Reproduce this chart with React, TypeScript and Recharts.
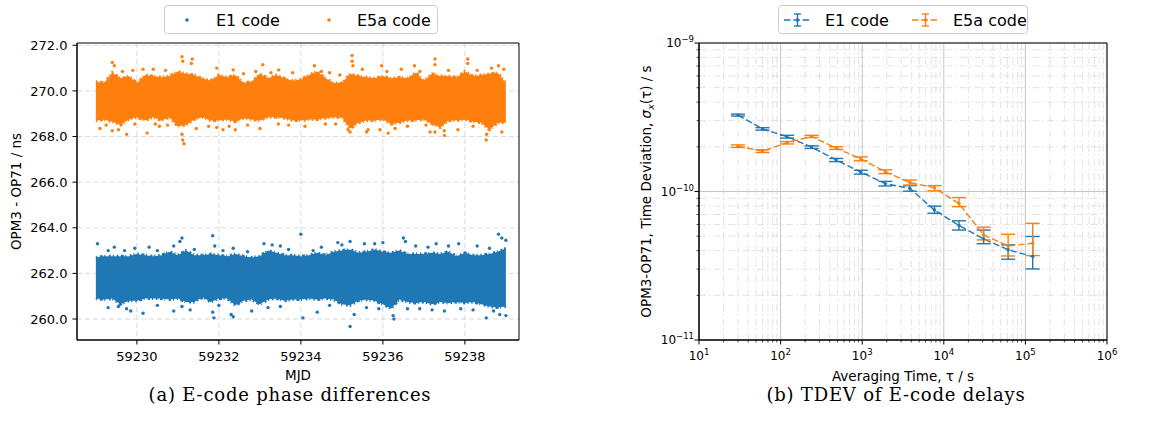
import { ComposedChart, LineChart, Line, Area, Scatter, XAxis, YAxis, CartesianGrid, ErrorBar, ReferenceArea, Label } from 'recharts'

const BLUE = '#1f77b4'
const ORANGE = '#ff7f0e'

const mjd = [59229.0, 59229.2, 59229.4, 59229.6, 59229.8, 59230.0, 59230.2, 59230.4, 59230.6, 59230.8, 59231.0, 59231.2, 59231.4, 59231.6, 59231.8, 59232.0, 59232.2, 59232.4, 59232.6, 59232.8, 59233.0, 59233.2, 59233.4, 59233.6, 59233.8, 59234.0, 59234.2, 59234.4, 59234.6, 59234.8, 59235.0, 59235.2, 59235.4, 59235.6, 59235.8, 59236.0, 59236.2, 59236.4, 59236.6, 59236.8, 59237.0, 59237.2, 59237.4, 59237.6, 59237.8, 59238.0, 59238.2, 59238.4, 59238.6, 59238.8, 59239.0]
const e5aHigh = [270.4, 270.35, 270.8, 270.55, 270.65, 270.35, 270.7, 270.65, 270.6, 270.65, 270.85, 270.75, 270.7, 270.55, 270.45, 270.7, 270.6, 270.7, 270.35, 270.4, 270.75, 270.55, 270.7, 270.55, 270.45, 270.5, 270.7, 270.85, 270.55, 270.35, 270.35, 270.75, 270.65, 270.6, 270.55, 270.65, 270.55, 270.6, 270.55, 270.8, 270.45, 270.75, 270.65, 270.65, 270.6, 270.85, 270.65, 270.7, 270.75, 270.8, 270.35]
const e5aLow = [268.7, 268.75, 268.65, 268.5, 268.75, 268.85, 268.7, 268.85, 268.7, 268.85, 268.45, 268.5, 268.75, 268.85, 268.7, 268.7, 268.75, 268.65, 268.8, 268.75, 268.7, 268.85, 268.85, 268.8, 268.7, 268.7, 268.75, 268.75, 268.8, 268.85, 268.85, 268.35, 268.6, 268.7, 268.7, 268.75, 268.55, 268.6, 268.7, 268.7, 268.75, 268.55, 268.4, 268.7, 268.7, 268.75, 268.65, 268.6, 268.3, 268.6, 268.6]
const e1High = [262.7, 262.75, 262.75, 262.75, 262.75, 262.85, 262.8, 262.75, 262.8, 262.95, 262.8, 263.0, 262.8, 262.8, 262.85, 262.8, 262.75, 262.85, 262.75, 262.7, 262.75, 263.0, 262.9, 262.8, 262.8, 262.75, 262.8, 262.9, 262.8, 262.95, 263.0, 263.05, 262.9, 262.95, 263.05, 262.95, 262.9, 263.0, 262.85, 262.85, 262.85, 262.9, 262.85, 262.95, 262.75, 262.9, 262.8, 262.8, 262.85, 262.95, 263.1]
const e1Low = [260.9, 260.85, 260.9, 260.65, 260.8, 260.8, 260.9, 260.9, 260.9, 260.85, 260.9, 260.75, 260.75, 260.95, 260.75, 260.9, 260.9, 260.6, 260.8, 260.85, 260.65, 260.85, 260.9, 260.8, 260.85, 260.85, 260.9, 260.85, 260.9, 260.85, 260.65, 260.6, 260.8, 260.85, 260.8, 260.65, 260.45, 260.85, 260.75, 260.7, 260.75, 260.65, 260.75, 260.7, 260.75, 260.7, 260.75, 260.65, 260.55, 260.5, 260.55]

// isolated points outside the band: [MJD, ns]
const e5aStray = [[59229.1, 268.35], [59229.4, 268.25], [59229.55, 268.3], [59229.75, 268.1], [59230.25, 268.15], [59230.55, 268.45], [59230.75, 268.5], [59231.1, 268.1], [59231.12, 267.85], [59231.15, 267.68], [59231.45, 268.35], [59231.75, 268.45], [59231.95, 268.4], [59229.4, 271.25], [59229.45, 271.1], [59230.4, 270.95], [59231.1, 271.5], [59231.12, 271.3], [59231.35, 271.4], [59231.33, 271.2], [59231.95, 271.0], [59232.35, 270.92], [59233.07, 271.15], [59233.27, 270.8], [59233.46, 270.92], [59234.33, 271.1], [59234.5, 270.85], [59235.25, 271.55], [59235.25, 271.3], [59235.27, 271.1], [59232.1, 268.3], [59232.25, 268.45], [59232.4, 268.3], [59233.0, 268.35], [59233.45, 268.55], [59234.1, 268.45], [59235.15, 268.3], [59235.2, 268.2], [59235.6, 268.2], [59235.97, 271.1], [59236.77, 271.1], [59237.27, 271.4], [59237.27, 271.15], [59238.07, 271.4], [59238.07, 271.2], [59238.65, 271.0], [59238.82, 271.1], [59235.64, 268.3], [59235.93, 268.3], [59236.13, 268.15], [59236.3, 268.35], [59237.15, 268.2], [59237.27, 268.2], [59237.5, 268.05], [59237.5, 268.25], [59237.83, 268.3], [59238.52, 267.85], [59238.53, 268.1], [59238.9, 268.2],
  [59229.65, 270.85], [59229.9, 270.9], [59230.15, 270.95], [59230.7, 270.9], [59232.6, 270.75], [59232.9, 270.85], [59233.8, 270.8], [59234.7, 270.8], [59234.95, 270.7], [59235.5, 270.95], [59236.1, 270.85], [59236.45, 270.95], [59236.9, 270.85], [59237.6, 270.9], [59238.3, 270.9], [59238.95, 270.95],
  [59229.25, 268.5], [59229.95, 268.55], [59230.45, 268.55], [59232.7, 268.5], [59233.7, 268.5], [59234.6, 268.55], [59234.85, 268.55], [59236.6, 268.45], [59237.05, 268.5], [59238.2, 268.45]]
const e1Stray = [[59229.04, 263.3], [59229.45, 263.15], [59229.95, 263.1], [59230.3, 263.15], [59230.9, 263.2], [59231.1, 263.55], [59231.05, 263.4], [59231.85, 263.65], [59231.9, 263.2], [59232.35, 263.1], [59233.1, 263.3], [59233.3, 263.25], [59233.5, 263.2], [59234.0, 263.72], [59234.5, 263.15], [59234.9, 263.35], [59235.2, 263.4], [59235.55, 263.3], [59236.0, 263.35], [59236.5, 263.55], [59236.55, 263.4], [59237.3, 263.3], [59237.85, 263.3], [59238.3, 263.2], [59238.82, 263.72], [59238.9, 263.55], [59239.0, 263.45], [59229.3, 260.5], [59229.75, 260.45], [59229.85, 260.35], [59230.15, 260.25], [59230.9, 260.35], [59231.1, 260.55], [59231.3, 260.4], [59231.85, 260.3], [59231.88, 260.05], [59232.3, 260.2], [59232.35, 260.1], [59232.8, 260.35], [59233.2, 260.5], [59234.05, 260.05], [59234.4, 260.3], [59235.2, 259.67], [59235.3, 260.2], [59235.9, 260.45], [59236.27, 260.0], [59236.25, 260.15], [59236.9, 260.45], [59237.5, 260.35], [59238.2, 260.4], [59238.52, 260.05], [59238.85, 260.2], [59239.0, 260.15],
  [59229.3, 263.0], [59229.7, 263.0], [59230.5, 263.0], [59231.4, 263.05], [59232.1, 263.0], [59232.7, 262.95], [59233.7, 263.05], [59234.3, 263.0], [59235.0, 263.25], [59235.8, 263.3], [59236.8, 263.2], [59237.1, 263.15], [59237.6, 263.2], [59238.6, 263.1],
  [59229.55, 260.55], [59230.5, 260.6], [59232.0, 260.6], [59233.5, 260.55], [59234.7, 260.6], [59235.6, 260.5], [59236.6, 260.45], [59237.2, 260.4], [59237.9, 260.45], [59238.7, 260.35]]

const mjdTicks = [59230, 59232, 59234, 59236, 59238]
const nsTicks = [260, 262, 264, 266, 268, 270, 272]
const mjdDomain = [59228.54, 59239.32]
const nsDomain = [259.08, 272.1]

// (b) TDEV, error bars as [below, above]
const tau = [30, 60, 120, 240, 480, 960, 1920, 3840, 7680, 15360, 30720, 61440, 122880]
const tdevE1 = [3.27e-10, 2.64e-10, 2.34e-10, 1.99e-10, 1.63e-10, 1.35e-10, 1.13e-10, 1.05e-10, 7.5e-11, 5.9e-11, 4.8e-11, 4.05e-11, 3.65e-11]
const errE1Below = [5e-12, 5e-12, 5e-12, 4e-12, 4e-12, 4e-12, 4e-12, 4.5e-12, 3.7e-12, 4e-12, 3.5e-12, 5.5e-12, 6.4e-12]
const errE1Above = [5e-12, 5e-12, 5e-12, 4e-12, 4e-12, 4e-12, 4e-12, 4.5e-12, 4.7e-12, 4.5e-12, 7e-12, 3.2e-12, 1.33e-11]
const tdevE5a = [2.02e-10, 1.87e-10, 2.13e-10, 2.35e-10, 1.96e-10, 1.66e-10, 1.36e-10, 1.15e-10, 1.06e-10, 8.3e-11, 5.1e-11, 4.3e-11, 4.48e-11]
const errE5aBelow = [4e-12, 4e-12, 4e-12, 4e-12, 4e-12, 5e-12, 4e-12, 4.5e-12, 5e-12, 4e-12, 3.8e-12, 6.2e-12, 7.8e-12]
const errE5aAbove = [4e-12, 4e-12, 4e-12, 4e-12, 4e-12, 5e-12, 4e-12, 4.5e-12, 3.5e-12, 8e-12, 6.5e-12, 8.5e-12, 1.62e-11]

const tauMajor = [1e1, 1e2, 1e3, 1e4, 1e5, 1e6]
const devMajor = [1e-11, 1e-10, 1e-9]
const steps = [2, 3, 4, 5, 6, 7, 8, 9]
const tauMinor = tauMajor.slice(0, -1).flatMap((d) => steps.map((m) => m * d))
const devMinor = devMajor.slice(0, -1).flatMap((d) => steps.map((m) => m * d))

const bandData = mjd.map((m, i) => ({ mjd: m, e1: [e1Low[i], e1High[i]], e5a: [e5aLow[i], e5aHigh[i]] }))
const e1Points = e1Stray.map(([m, v]) => ({ mjd: m, v }))
const e5aPoints = e5aStray.map(([m, v]) => ({ mjd: m, v }))

const tdevData = tau.map((t, i) => ({
  tau: t,
  e1: tdevE1[i],
  e1Err: [errE1Below[i], errE1Above[i]],
  e5a: tdevE5a[i],
  e5aErr: [errE5aBelow[i], errE5aAbove[i]],
}))

// ragged edge for the dense bands
const speckle = '1.5 2.5 3 1.5 1 3.5 2 2 1.2 2.8'

const isMajor = (v: number) => Math.abs(Math.log10(v) - Math.round(Math.log10(v))) < 1e-6
const expOf = (v: number) => {
  const e = Math.round(Math.log10(v))
  return e < 0 ? '\u2212' + Math.abs(e) : String(e)
}

function LogTick(props: any) {
  const { x, y, payload, axis } = props
  const v = payload.value
  const major = isMajor(v)
  const len = major ? 4.5 : 2.5
  if (axis === 'x') {
    return (
      <g>
        <line x1={x} x2={x} y1={y} y2={y + len} stroke="#000" strokeWidth={major ? 1 : 0.7} />
        {major && (
          <text x={x} y={y + 20} textAnchor="middle" fontSize={12} fill="#000">
            10<tspan dy={-5} fontSize={8.5}>{expOf(v)}</tspan>
          </text>
        )}
      </g>
    )
  }
  return (
    <g>
      <line x1={x - len} x2={x} y1={y} y2={y} stroke="#000" strokeWidth={major ? 1 : 0.7} />
      {major && (
        <text x={x - 5} y={y + 4} textAnchor="end" fontSize={12} fill="#000">
          10<tspan dy={-5} fontSize={8.5}>{expOf(v)}</tspan>
        </text>
      )}
    </g>
  )
}

function TdevYLabel(props: any) {
  const { viewBox } = props
  const cx = viewBox.x + 46
  const cy = viewBox.y + viewBox.height / 2
  return (
    <text x={cx} y={cy} dy={5} transform={`rotate(-90 ${cx} ${cy})`} textAnchor="middle" fontSize={13.5} fill="#000">
      OPM3-OP71, Time Deviation, <tspan fontStyle="italic">σ</tspan>
      <tspan fontStyle="italic" fontSize={9.5} dy={3}>x</tspan>
      <tspan dy={-3}>(τ) / s</tspan>
    </text>
  )
}

const smallDot = (color: string) => (p: any) => <circle cx={p.cx} cy={p.cy} r={1.7} fill={color} />

function ScatterLegend() {
  return (
    <svg width={274} height={29} style={{ position: 'absolute', left: 164, top: 5 }}>
      <rect x={0.5} y={0.5} width={273} height={28} rx={3} fill="#fff" stroke="#cccccc" />
      <circle cx={23} cy={15} r={1.8} fill={BLUE} />
      <text x={52} y={20.5} fontSize={16} fill="#000">E1 code</text>
      <circle cx={165} cy={15} r={1.8} fill={ORANGE} />
      <text x={193} y={20.5} fontSize={16} fill="#000">E5a code</text>
    </svg>
  )
}

function TdevLegend() {
  const entry = (x0: number, color: string, name: string) => (
    <g>
      <line x1={x0} x2={x0 + 27} y1={15} y2={15} stroke={color} strokeWidth={1.4} strokeDasharray="6.5 2.8" />
      <line x1={x0 + 13.5} x2={x0 + 13.5} y1={9} y2={21} stroke={color} strokeWidth={1.4} />
      <line x1={x0 + 10} x2={x0 + 17} y1={9} y2={9} stroke={color} strokeWidth={1.4} />
      <line x1={x0 + 10} x2={x0 + 17} y1={21} y2={21} stroke={color} strokeWidth={1.4} />
      <circle cx={x0 + 13.5} cy={15} r={1.8} fill={color} />
      <text x={x0 + 41} y={20.5} fontSize={16} fill="#000">{name}</text>
    </g>
  )
  return (
    <svg width={250} height={29} style={{ position: 'absolute', left: 778, top: 5 }}>
      <rect x={0.5} y={0.5} width={249} height={28} rx={3} fill="#fff" stroke="#cccccc" />
      {entry(6, BLUE, 'E1 code')}
      {entry(134, ORANGE, 'E5a code')}
    </svg>
  )
}

const captionStyle = {
  position: 'absolute' as const,
  top: 384,
  fontFamily: '"DejaVu Serif", serif',
  fontSize: 18,
  letterSpacing: 0.8,
  textAlign: 'center' as const,
  whiteSpace: 'nowrap' as const,
}

export default function App() {
  return (
    <div style={{ position: 'absolute', left: 0, top: 0, width: 1176, height: 421, background: '#fff', fontFamily: '"DejaVu Sans", sans-serif' }}>
      <div style={{ position: 'absolute', left: 0, top: 0 }}>
        <ComposedChart width={540} height={421} data={bandData} margin={{ top: 43, right: 21, bottom: 0, left: 0 }}>
          <CartesianGrid stroke="#d9d9d9" strokeDasharray="5 3" verticalValues={mjdTicks} horizontalValues={nsTicks} />
          <XAxis
            dataKey="mjd"
            type="number"
            domain={mjdDomain}
            allowDataOverflow
            ticks={mjdTicks}
            interval={0}
            height={81}
            tickSize={4.5}
            tickMargin={7}
            stroke="#000"
            tick={{ fill: '#000', fontSize: 13 }}
          >
            <Label value="MJD" position="insideBottom" offset={41} fill="#000" fontSize={13.5} />
          </XAxis>
          <YAxis
            type="number"
            domain={nsDomain}
            allowDataOverflow
            ticks={nsTicks}
            interval={0}
            width={77}
            tickSize={4.5}
            tickMargin={5}
            stroke="#000"
            tick={{ fill: '#000', fontSize: 13 }}
            tickFormatter={(v: number) => v.toFixed(1)}
          >
            <Label value="OPM3 - OP71 / ns" angle={-90} position="insideLeft" offset={16} fill="#000" fontSize={13.5} style={{ textAnchor: 'middle' }} />
          </YAxis>
          <Area dataKey="e5a" type="linear" fill={ORANGE} fillOpacity={1} stroke={ORANGE} strokeWidth={3} strokeDasharray={speckle} dot={false} activeDot={false} isAnimationActive={false} />
          <Area dataKey="e1" type="linear" fill={BLUE} fillOpacity={1} stroke={BLUE} strokeWidth={3} strokeDasharray={speckle} dot={false} activeDot={false} isAnimationActive={false} />
          <Scatter data={e5aPoints} dataKey="v" fill={ORANGE} shape={smallDot(ORANGE)} isAnimationActive={false} />
          <Scatter data={e1Points} dataKey="v" fill={BLUE} shape={smallDot(BLUE)} isAnimationActive={false} />
          <ReferenceArea x1={mjdDomain[0]} x2={mjdDomain[1]} y1={nsDomain[0]} y2={nsDomain[1]} fill="none" stroke="#000" strokeWidth={1} ifOverflow="visible" />
        </ComposedChart>
      </div>
      <ScatterLegend />
      <div style={{ ...captionStyle, left: 90, width: 400 }}>(a) E-code phase differences</div>

      <div style={{ position: 'absolute', left: 600, top: 0 }}>
        <LineChart width={576} height={421} data={tdevData} margin={{ top: 43, right: 69, bottom: 0, left: 0 }}>
          <CartesianGrid stroke="#e2e2e2" strokeDasharray="7 3 1.5 3" verticalValues={tauMinor} horizontalValues={devMinor} />
          <CartesianGrid stroke="#c6c6c6" verticalValues={tauMajor} horizontalValues={devMajor} />
          <XAxis
            dataKey="tau"
            type="number"
            scale="log"
            domain={[1e1, 1e6]}
            allowDataOverflow
            ticks={[...tauMajor, ...tauMinor]}
            interval={0}
            height={81}
            tickSize={0}
            tickMargin={0}
            tickLine={false}
            stroke="#000"
            tick={(p: any) => <LogTick {...p} axis="x" />}
          >
            <Label value="Averaging Time, τ / s" position="insideBottom" offset={40} fill="#000" fontSize={13.5} />
          </XAxis>
          <YAxis
            type="number"
            scale="log"
            domain={[1e-11, 1e-9]}
            allowDataOverflow
            ticks={[...devMajor, ...devMinor]}
            interval={0}
            width={99}
            tickSize={0}
            tickMargin={0}
            tickLine={false}
            stroke="#000"
            tick={(p: any) => <LogTick {...p} axis="y" />}
          >
            <Label content={(p: any) => <TdevYLabel {...p} />} />
          </YAxis>
          <Line dataKey="e1" stroke={BLUE} strokeWidth={1.4} strokeDasharray="6.5 2.8" dot={{ r: 1.7, fill: BLUE, stroke: BLUE, strokeWidth: 0 }} activeDot={false} isAnimationActive={false}>
            <ErrorBar dataKey="e1Err" direction="y" width={7} stroke={BLUE} strokeWidth={1.4} />
          </Line>
          <Line dataKey="e5a" stroke={ORANGE} strokeWidth={1.4} strokeDasharray="6.5 2.8" dot={{ r: 1.7, fill: ORANGE, stroke: ORANGE, strokeWidth: 0 }} activeDot={false} isAnimationActive={false}>
            <ErrorBar dataKey="e5aErr" direction="y" width={7} stroke={ORANGE} strokeWidth={1.4} />
          </Line>
          <ReferenceArea x1={1e1} x2={1e6} y1={1e-11} y2={1e-9} fill="none" stroke="#000" strokeWidth={1} ifOverflow="visible" />
        </LineChart>
      </div>
      <TdevLegend />
      <div style={{ ...captionStyle, left: 696, width: 400 }}>(b) TDEV of E-code delays</div>
    </div>
  )
}
